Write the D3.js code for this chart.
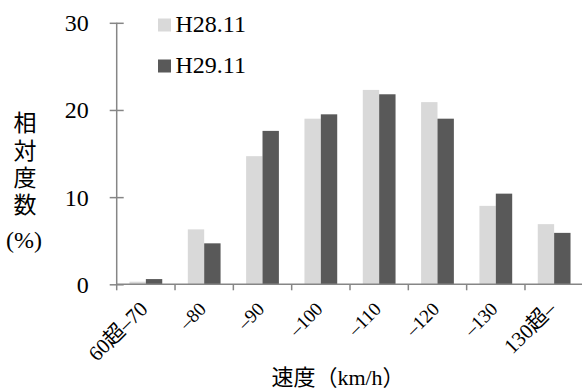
<!DOCTYPE html>
<html>
<head>
<meta charset="utf-8">
<script src="https://cdn.jsdelivr.net/npm/d3@7"></script>
<style>
  html, body { margin: 0; padding: 0; background: #fff; }
  svg { display: block; }
</style>
</head>
<body>
<svg id="chart" width="582" height="392"></svg>
<script>
// Speed distribution (relative frequency, %)
const categories = ["60超–70", "–80", "–90", "–100", "–110", "–120", "–130", "130超–"];
const seriesNames = ["H28.11", "H29.11"];
const valuesH28 = [0.3, 6.3, 14.7, 19.0, 22.3, 20.9, 9.0, 6.9];
const valuesH29 = [0.6, 4.7, 17.6, 19.5, 21.8, 19.0, 10.4, 5.9];
const yTicks = [0, 10, 20, 30];
const colors = ["#d9d9d9", "#595959"];

const FONT = "'Liberation Serif', 'Noto Sans CJK JP', serif";
const CJK = "'Noto Sans CJK JP', 'Liberation Serif', sans-serif";
const svg = d3.select("#chart");
const axisColor = "#868686";

const x = d3.scaleBand().domain(categories).range([116.7, 583.3]).padding(0);
const xs = d3.scaleBand().domain(seriesNames).range([0, x.bandwidth()])
  .paddingInner(0).paddingOuter(0.78);
const y = d3.scaleLinear().domain([0, 30]).range([284.3, 22.8]);

const series = [valuesH28, valuesH29];

// bars
seriesNames.forEach((name, si) => {
  svg.append("g").selectAll("rect")
    .data(categories.map((c, i) => ({ c, v: series[si][i] })))
    .join("rect")
    .attr("x", d => x(d.c) + xs(name))
    .attr("width", xs.bandwidth())
    .attr("y", d => y(d.v))
    .attr("height", d => y(0) - y(d.v))
    .attr("fill", colors[si]);
});

// y axis: line with ticks crossing it
const yAxis = svg.append("g").attr("transform", `translate(${x.range()[0]},0)`)
  .call(d3.axisLeft(y).tickValues(yTicks).tickSize(0).tickFormat(""));
yAxis.select(".domain").remove();
yAxis.selectAll(".tick text").remove();
yAxis.append("line")
  .attr("x1", 0).attr("x2", 0).attr("y1", y(30)).attr("y2", y(0))
  .attr("stroke", axisColor).attr("stroke-width", 1.5);
yAxis.selectAll(".tick").append("line")
  .attr("x1", -7).attr("x2", 7)
  .attr("stroke", axisColor).attr("stroke-width", 1.5);
yAxis.selectAll(".tick").append("text")
  .attr("x", -28).attr("dy", "0.33em")
  .attr("text-anchor", "end")
  .attr("fill", "#000")
  .style("font-family", FONT)
  .style("font-size", "24px")
  .text(d => d);

// x axis
const xAxis = svg.append("g").attr("transform", `translate(0,${y(0)})`);
xAxis.append("line")
  .attr("x1", x.range()[0]).attr("x2", x.range()[1])
  .attr("stroke", axisColor).attr("stroke-width", 1.5);
xAxis.selectAll("line.tk")
  .data(categories)
  .join("line")
  .attr("class", "tk")
  .attr("x1", d => x(d)).attr("x2", d => x(d))
  .attr("y1", 0).attr("y2", 6)
  .attr("stroke", axisColor).attr("stroke-width", 1.5);
xAxis.selectAll("text.cat")
  .data(categories)
  .join("text")
  .attr("class", "cat")
  .attr("text-anchor", "end")
  .style("font-family", FONT)
  .style("font-size", d => (d.includes("超") ? "21px" : "19px"))
  .attr("transform", d => `translate(${x(d) + x.bandwidth() / 2 + 3},${26}) rotate(-45)`)
  .text(d => d);

// axis titles
svg.append("text")
  .attr("x", 338).attr("y", 385)
  .attr("text-anchor", "middle")
  .style("font-family", FONT)
  .style("font-size", "22px")
  .text("速度（km/h）");

// vertical y title
svg.append("text")
  .attr("x", 25).attr("y", 111)
  .style("writing-mode", "vertical-rl")
  .style("letter-spacing", "4.3px")
  .style("font-family", CJK)
  .style("font-size", "23px")
  .text("相対度数");
svg.append("text")
  .attr("x", 24).attr("y", 248)
  .attr("text-anchor", "middle")
  .style("font-family", FONT)
  .style("font-size", "24px")
  .text("(%)");

// legend
const legend = svg.append("g");
seriesNames.forEach((name, i) => {
  const ly = 32 + i * 41;
  legend.append("rect")
    .attr("x", 158).attr("y", ly - 13.5)
    .attr("width", 13).attr("height", 13)
    .attr("fill", colors[i]);
  legend.append("text")
    .attr("x", 175.5).attr("y", ly)
    .style("font-family", FONT)
    .style("font-size", "24px")
    .text(name);
});
</script>
</body>
</html>
